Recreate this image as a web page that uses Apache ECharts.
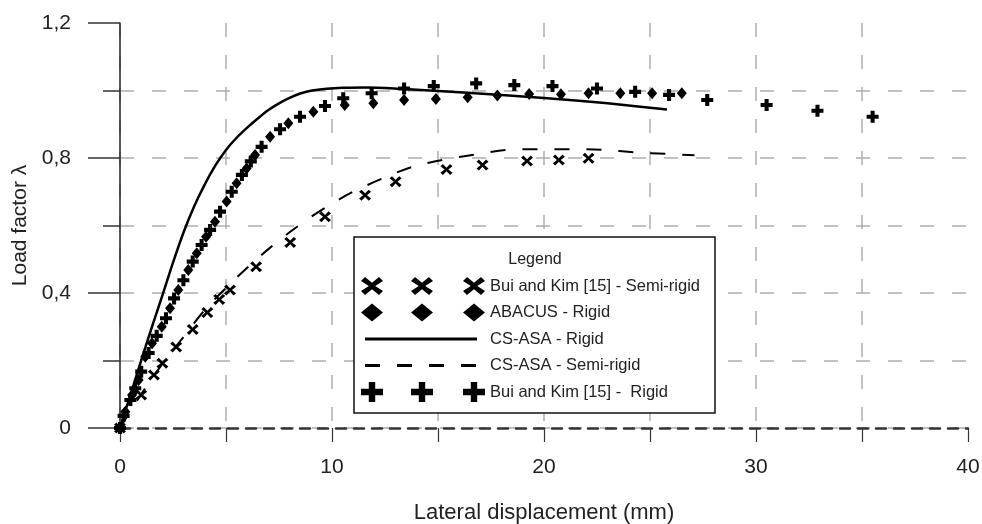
<!DOCTYPE html>
<html>
<head>
<meta charset="utf-8">
<script src="https://cdn.jsdelivr.net/npm/echarts@6/dist/echarts.min.js"></script>
<style>
  html, body { margin: 0; padding: 0; background: #fff; }
  #chart { width: 982px; height: 524px; }
</style>
</head>
<body>
<div id="chart"></div>
<script>
// Bui and Kim [15] - semi-rigid (x markers)
const bkSemiX = [0, 1.0, 1.6, 2.0, 2.65, 3.43, 4.12, 4.68, 5.19, 6.42, 8.03, 9.67, 11.56, 13.0, 15.4, 17.1, 19.2, 20.7, 22.1]
const bkSemiY = [0, 0.098, 0.157, 0.192, 0.24, 0.292, 0.342, 0.381, 0.409, 0.478, 0.55, 0.626, 0.69, 0.73, 0.766, 0.779, 0.791, 0.794, 0.799]

// ABACUS - rigid (diamonds)
const abX = [0, 0.25, 0.57, 0.88, 1.19, 1.51, 1.97, 2.36, 2.75, 3.22, 3.62, 4.06, 4.48, 5.03, 5.5, 5.97, 6.37, 7.08, 7.94, 9.12, 10.6, 11.95, 13.4, 14.9, 16.4, 17.8, 19.3, 20.8, 22.1, 23.6, 25.1, 26.5]
const abY = [0, 0.048, 0.098, 0.142, 0.211, 0.251, 0.3, 0.355, 0.409, 0.468, 0.518, 0.567, 0.611, 0.671, 0.725, 0.769, 0.809, 0.863, 0.903, 0.937, 0.957, 0.962, 0.972, 0.975, 0.98, 0.985, 0.99, 0.989, 0.992, 0.992, 0.992, 0.992]

// CS-ASA - rigid (solid line)
const csRigX = [0, 0.5, 1, 1.5, 2, 2.5, 3, 3.5, 4, 4.5, 5, 5.5, 6, 6.5, 7, 7.5, 8, 8.5, 9, 9.75, 10.5, 11.6, 13.2, 16, 20, 23, 25.8]
const csRigY = [0, 0.1, 0.2, 0.298, 0.393, 0.49, 0.58, 0.657, 0.722, 0.778, 0.824, 0.86, 0.89, 0.917, 0.942, 0.962, 0.978, 0.991, 0.999, 1.005, 1.008, 1.009, 1.005, 0.995, 0.978, 0.962, 0.944]

// CS-ASA - semi-rigid (dashed line)
const csSemiX = [0, 1, 2, 3, 4, 5, 6, 7, 8, 9, 10, 11, 12.4, 13.8, 15.2, 16.8, 18.3, 19.8, 21.3, 22.8, 24.3, 25.8, 27.1]
const csSemiY = [0, 0.1, 0.19, 0.27, 0.35, 0.415, 0.475, 0.53, 0.58, 0.625, 0.665, 0.7, 0.74, 0.774, 0.794, 0.811, 0.824, 0.826, 0.826, 0.824, 0.817, 0.812, 0.808]

// Bui and Kim [15] - rigid (plus markers)
const bkRigX = [0, 0.17, 0.49, 0.72, 1.0, 1.35, 1.73, 2.17, 2.55, 2.99, 3.43, 3.85, 4.25, 4.72, 5.27, 5.75, 6.17, 6.68, 7.55, 8.49, 9.67, 10.53, 11.87, 13.4, 14.8, 16.8, 18.6, 20.4, 22.5, 24.3, 25.9, 27.7, 30.5, 32.9, 35.5]
const bkRigY = [0, 0.036, 0.083, 0.118, 0.167, 0.222, 0.273, 0.325, 0.384, 0.438, 0.493, 0.542, 0.587, 0.641, 0.7, 0.75, 0.79, 0.833, 0.885, 0.922, 0.954, 0.977, 0.992, 1.006, 1.013, 1.021, 1.016, 1.013, 1.006, 0.996, 0.987, 0.972, 0.957, 0.94, 0.922]

const xTicks = [0, 10, 20, 30, 40]
const yTicks = [0, 0.4, 0.8, 1.2]

const names = ['Bui and Kim [15] - Semi-rigid', 'ABACUS - Rigid', 'CS-ASA - Rigid', 'CS-ASA - Semi-rigid', 'Bui and Kim [15] -  Rigid']

const zip = (xs, ys) => xs.map((x, i) => [x, ys[i]])

// symbol shapes (path strings)
function xPath (cx, cy, a, b, d) {
  const e = d * 0.8
  return 'M' + (cx - a) + ',' + (cy - b + d) + ' L' + (cx - a + d) + ',' + (cy - b) + ' L' + cx + ',' + (cy - e) +
    ' L' + (cx + a - d) + ',' + (cy - b) + ' L' + (cx + a) + ',' + (cy - b + d) + ' L' + (cx + e) + ',' + cy +
    ' L' + (cx + a) + ',' + (cy + b - d) + ' L' + (cx + a - d) + ',' + (cy + b) + ' L' + cx + ',' + (cy + e) +
    ' L' + (cx - a + d) + ',' + (cy + b) + ' L' + (cx - a) + ',' + (cy + b - d) + ' L' + (cx - e) + ',' + cy + ' Z '
}
function plusPath (cx, cy, a, b, t) {
  return 'M' + (cx - t) + ',' + (cy - b) + ' H' + (cx + t) + ' V' + (cy - t) + ' H' + (cx + a) + ' V' + (cy + t) +
    ' H' + (cx + t) + ' V' + (cy + b) + ' H' + (cx - t) + ' V' + (cy + t) + ' H' + (cx - a) + ' V' + (cy - t) +
    ' H' + (cx - t) + ' Z '
}
function diamondPath (cx, cy, a, b) {
  return 'M' + cx + ',' + (cy - b) + ' L' + (cx + a) + ',' + cy + ' L' + cx + ',' + (cy + b) + ' L' + (cx - a) + ',' + cy + ' Z '
}
function barPath (x0, x1) {
  return 'M' + x0 + ',8.5 H' + x1 + ' V11.5 H' + x0 + ' Z '
}
// zero-length corners keep every legend icon on the same 124x20 box
const box = 'M0,0 L0,0 M124,20 L124,20 '
const legendPos = [11, 61, 113]
const legendX = 'path://' + box + legendPos.map(c => xPath(c, 10, 11, 9, 4)).join('')
const legendDiamond = 'path://' + box + legendPos.map(c => diamondPath(c, 10, 11, 9)).join('')
const legendPlus = 'path://' + box + legendPos.map(c => plusPath(c, 10, 11, 10, 3.2)).join('')
const legendSolid = 'path://' + box + barPath(4, 116)
const legendDashed = 'path://' + box + [4, 36, 68, 100].map(s => barPath(s, s + 15)).join('')

const chart = echarts.init(document.getElementById('chart'))
const font = 'Liberation Sans, Arial, sans-serif'
const gridDash = { color: '#adadad', width: 1.5, type: [14, 18] }
const markStyle = { color: '#000', opacity: 1 }

chart.setOption({
  animation: false,
  backgroundColor: '#fff',
  textStyle: { fontFamily: font },
  grid: { left: 120, right: 14, top: 23, bottom: 96, outerBoundsMode: 'none' },
  graphic: [{
    type: 'text',
    z: 100,
    x: 535,
    y: 260,
    style: { text: 'Legend', fill: '#222', font: '16px ' + font, textAlign: 'center', textVerticalAlign: 'middle' }
  }],
  legend: {
    orient: 'vertical',
    left: 354,
    top: 237,
    padding: [39, 15, 11, 7],
    itemWidth: 124,
    itemHeight: 20,
    itemGap: 6.5,
    selectedMode: false,
    symbolKeepAspect: true,
    backgroundColor: '#fff',
    borderColor: '#111',
    borderWidth: 1.5,
    borderRadius: 0,
    itemStyle: { color: '#000', opacity: 1 },
    textStyle: { fontSize: 16.5, color: '#222', fontFamily: font },
    data: [
      { name: names[0], icon: legendX },
      { name: names[1], icon: legendDiamond },
      { name: names[2], icon: legendSolid },
      { name: names[3], icon: legendDashed },
      { name: names[4], icon: legendPlus }
    ]
  },
  xAxis: {
    type: 'value',
    min: xTicks[0],
    max: xTicks[xTicks.length - 1],
    interval: 10,
    name: 'Lateral displacement (mm)',
    nameLocation: 'middle',
    nameGap: 74,
    nameTextStyle: { fontSize: 22, color: '#222' },
    axisLine: { lineStyle: { color: '#333', width: 2.5, type: [10, 8] } },
    axisTick: { show: true, length: 14, lineStyle: { color: '#333', width: 1.2 } },
    minorTick: { show: true, splitNumber: 2, length: 14, lineStyle: { color: '#333', width: 1.2 } },
    axisLabel: { fontSize: 21, color: '#222', margin: 29 },
    splitLine: { show: true, showMaxLine: false, lineStyle: gridDash },
    minorSplitLine: { show: true, lineStyle: gridDash }
  },
  yAxis: {
    type: 'value',
    min: yTicks[0],
    max: yTicks[yTicks.length - 1],
    interval: 0.4,
    name: 'Load factor λ',
    nameLocation: 'middle',
    nameGap: 84,
    nameTextStyle: { fontSize: 21, color: '#222' },
    axisLine: { show: true, lineStyle: { color: '#222', width: 1.5 } },
    axisTick: { show: true, length: 32, lineStyle: { color: '#333', width: 1.5 } },
    minorTick: { show: true, splitNumber: 2, length: 17, lineStyle: { color: '#333', width: 1.5 } },
    axisLabel: {
      fontSize: 21,
      color: '#222',
      margin: 49,
      formatter: v => v === 0 ? '0' : v.toFixed(1).replace('.', ',')
    },
    splitLine: { show: true, showMaxLine: false, lineStyle: gridDash },
    minorSplitLine: { show: true, lineStyle: gridDash }
  },
  series: [
    {
      name: names[0],
      type: 'scatter',
      symbol: 'path://' + xPath(5, 5, 5, 5, 2),
      symbolSize: [12, 11],
      itemStyle: markStyle,
      data: zip(bkSemiX, bkSemiY),
      z: 4
    },
    {
      name: names[1],
      type: 'scatter',
      symbol: 'diamond',
      symbolSize: [10, 12],
      itemStyle: markStyle,
      data: zip(abX, abY),
      z: 4
    },
    {
      name: names[2],
      type: 'line',
      symbol: 'none',
      smooth: 0.3,
      lineStyle: { color: '#000', width: 2.5 },
      itemStyle: markStyle,
      data: zip(csRigX, csRigY),
      z: 3
    },
    {
      name: names[3],
      type: 'line',
      symbol: 'none',
      smooth: 0.3,
      lineStyle: { color: '#000', width: 2, type: [15, 17] },
      itemStyle: markStyle,
      data: zip(csSemiX, csSemiY),
      z: 3
    },
    {
      name: names[4],
      type: 'scatter',
      symbol: 'path://' + plusPath(5, 5, 5, 5, 1.7),
      symbolSize: 12,
      itemStyle: markStyle,
      data: zip(bkRigX, bkRigY),
      z: 4
    }
  ]
})
</script>
</body>
</html>
